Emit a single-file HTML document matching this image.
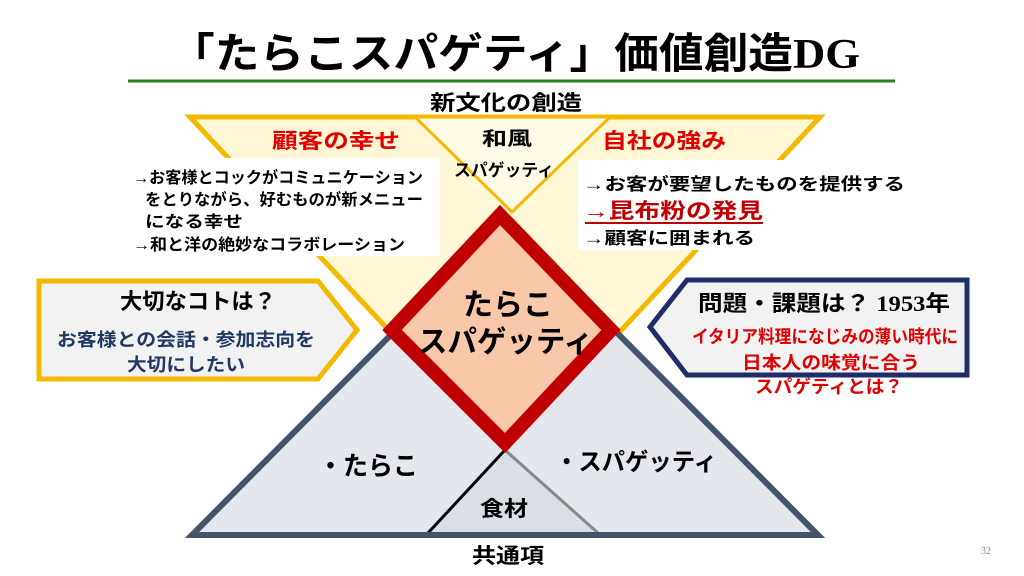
<!DOCTYPE html>
<html><head><meta charset="utf-8"><style>
html,body{margin:0;padding:0;background:#fff;width:1024px;height:576px;overflow:hidden}
svg text{font-family:"Liberation Serif","Noto Sans CJK JP",sans-serif;font-weight:bold}
</style></head><body>
<svg width="1024" height="576" viewBox="0 0 1024 576" xmlns="http://www.w3.org/2000/svg">
<text x="170" y="68" font-size="42" textLength="690" lengthAdjust="spacingAndGlyphs" fill="#000">「たらこスパゲティ」価値創造DG</text>
<line x1="128" y1="81" x2="895" y2="81" stroke="#2e7d1e" stroke-width="3"/>
<text x="430" y="110" font-size="21" textLength="152" lengthAdjust="spacingAndGlyphs">新文化の創造</text>
<!-- inverted triangle -->
<polygon points="190,117 820,117 505,455" fill="#fff7d6" stroke="#f5b800" stroke-width="5"/>
<polygon points="415,117 610,117 512,212" fill="#fffbe6" stroke="#f5b800" stroke-width="3"/>
<!-- white boxes -->
<rect x="128" y="158" width="312" height="98" fill="#fff"/>
<rect x="578" y="160" width="327" height="90" fill="#fff"/>
<text x="272" y="148" font-size="21" fill="#e00000" textLength="128" lengthAdjust="spacingAndGlyphs">顧客の幸せ</text>
<text x="602" y="148" font-size="21" fill="#e00000" textLength="124" lengthAdjust="spacingAndGlyphs">自社の強み</text>
<text x="482" y="145" font-size="19" textLength="50" lengthAdjust="spacingAndGlyphs">和風</text>
<text x="454" y="176" font-size="17" textLength="100" lengthAdjust="spacingAndGlyphs">スパゲッティ</text>
<g font-size="16">
<text x="133" y="183" textLength="290" lengthAdjust="spacingAndGlyphs">→お客様とコックがコミュニケーション</text>
<text x="145" y="205" textLength="278" lengthAdjust="spacingAndGlyphs">をとりながら、好むものが新メニュー</text>
<text x="145" y="227" textLength="98" lengthAdjust="spacingAndGlyphs">になる幸せ</text>
<text x="133" y="250" textLength="272" lengthAdjust="spacingAndGlyphs">→和と洋の絶妙なコラボレーション</text>
<text x="583" y="190" font-size="17" textLength="322" lengthAdjust="spacingAndGlyphs">→お客が要望したものを提供する</text>
<text x="583" y="244" font-size="17" textLength="172" lengthAdjust="spacingAndGlyphs">→顧客に囲まれる</text>
</g>
<text x="583" y="218" font-size="21" fill="#c00000" textLength="180" lengthAdjust="spacingAndGlyphs">→昆布粉の発見</text>
<line x1="585" y1="223" x2="763" y2="223" stroke="#c00000" stroke-width="2"/>
<!-- big triangle -->
<polygon points="505,220 818,535 192,535" fill="#e4e7ed" stroke="#44546a" stroke-width="6" stroke-linejoin="miter"/>
<polygon points="505,450 598,533 428,533" fill="#d9dee7"/>
<line x1="505" y1="450" x2="428" y2="533" stroke="#000" stroke-width="3"/>
<line x1="505" y1="450" x2="598" y2="533" stroke="#888" stroke-width="3"/>
<line x1="192" y1="535" x2="818" y2="535" stroke="#44546a" stroke-width="6"/>
<!-- diamond -->
<polygon points="500,215 611,330 505,443 392,330" fill="#f8c8a8" stroke="#c00000" stroke-width="14" stroke-linejoin="miter"/>
<text x="463" y="315" font-size="30" textLength="90" lengthAdjust="spacingAndGlyphs">たらこ</text>
<text x="418" y="352" font-size="30" textLength="175" lengthAdjust="spacingAndGlyphs">スパゲッティ</text>
<text x="318" y="475" font-size="26" textLength="100" lengthAdjust="spacingAndGlyphs">・たらこ</text>
<text x="555" y="470" font-size="24" textLength="162" lengthAdjust="spacingAndGlyphs">・スパゲッティ</text>
<text x="480" y="516" font-size="21" textLength="48" lengthAdjust="spacingAndGlyphs">食材</text>
<text x="472" y="563" font-size="21" textLength="72" lengthAdjust="spacingAndGlyphs">共通項</text>
<!-- left pentagon -->
<polygon points="39,281 318,281 357,330 318,379 39,379" fill="#f2f2f2" stroke="#f5b800" stroke-width="5"/>
<text x="120" y="309" font-size="22" textLength="156" lengthAdjust="spacingAndGlyphs">大切なコトは？</text>
<text x="57" y="346" font-size="18" fill="#1f3864" textLength="258" lengthAdjust="spacingAndGlyphs">お客様との会話・参加志向を</text>
<text x="127" y="371" font-size="18" fill="#1f3864" textLength="118" lengthAdjust="spacingAndGlyphs">大切にしたい</text>
<!-- right pentagon -->
<polygon points="687,280 967,280 967,375 687,375 650,327" fill="#f2f2f2" stroke="#1f2d6b" stroke-width="5"/>
<text x="698" y="311" font-size="22" textLength="252" lengthAdjust="spacingAndGlyphs">問題・課題は？ 1953年</text>
<text x="692" y="343" font-size="18" fill="#e00000" textLength="266" lengthAdjust="spacingAndGlyphs">イタリア料理になじみの薄い時代に</text>
<text x="742" y="369" font-size="18" fill="#e00000" textLength="178" lengthAdjust="spacingAndGlyphs">日本人の味覚に合う</text>
<text x="755" y="393" font-size="18" fill="#e00000" textLength="148" lengthAdjust="spacingAndGlyphs">スパゲティとは？</text>
<text x="981" y="554" font-size="10" fill="#888" font-weight="normal" style="font-weight:normal">32</text>
</svg>
</body></html>
